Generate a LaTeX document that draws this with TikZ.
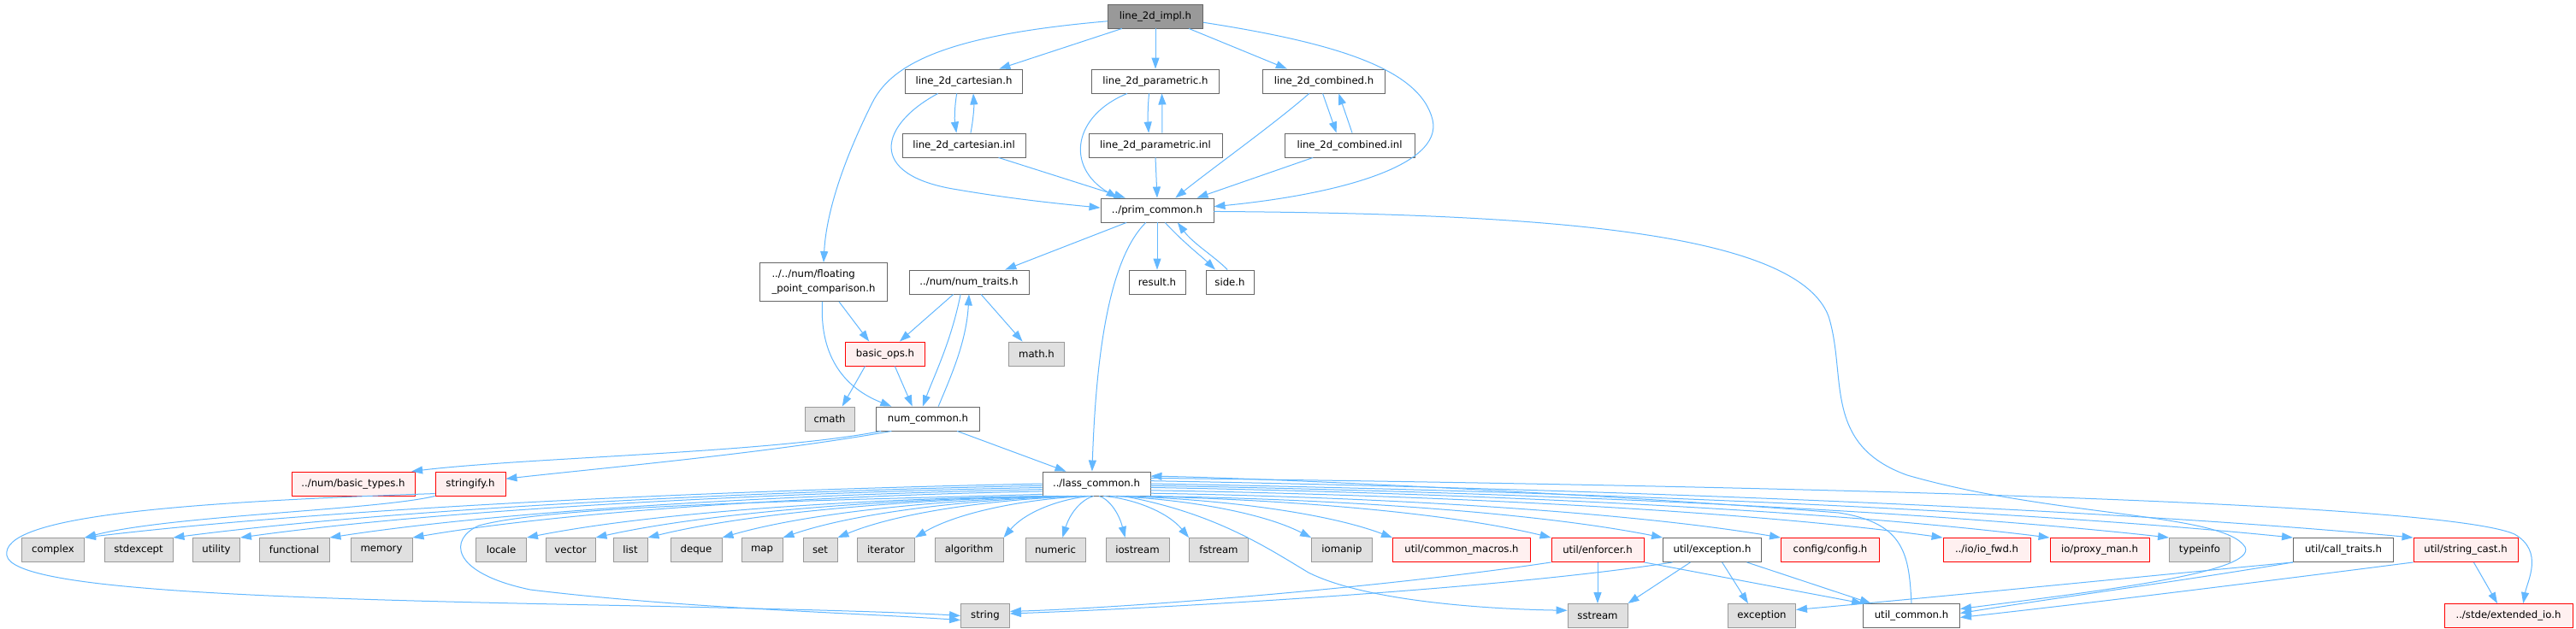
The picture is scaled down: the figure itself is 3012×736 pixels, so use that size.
\documentclass[tikz,border=0pt]{standalone}
\usepackage{fontspec}
\setmainfont{DejaVu Sans}
\usetikzlibrary{arrows.meta,calc}
\definecolor{edgec}{HTML}{63B8FF}
\definecolor{bdsix}{HTML}{666666}
\definecolor{bdnine}{HTML}{999999}
\definecolor{fgray}{HTML}{E0E0E0}
\definecolor{fred}{HTML}{FFF0F0}
\definecolor{bred}{HTML}{FF0000}
\newcommand\ccedge[2]{\draw[dep] (cc.#1) .. controls ($(cc.#1)!0.35!(#2)+(0,-14)$) and ($(cc.#1)!0.75!(#2)+(0,-18)$) .. (#2);}
\begin{document}
\begin{tikzpicture}[x=1pt,y=-1pt,
  nbox/.style={draw, line width=0.9pt, minimum height=28pt, inner sep=0pt, font=\fontsize{11.7}{16.5}\selectfont, text=black},
  wbox/.style={nbox, draw=bdsix, fill=white},
  gbox/.style={nbox, draw=bdnine, fill=fgray},
  rbox/.style={nbox, draw=bred, fill=fred},
  topbox/.style={nbox, draw=bdsix, fill=bdnine},
  dep/.style={draw=edgec, line width=1pt, -{Triangle[length=13pt,width=9pt]}}]
\fill[white] (0,0) rectangle (3012,736);
\useasboundingbox (0,0) rectangle (3012,736);
% nodes
\node[topbox, minimum width=111pt] (impl) at (1351,19) {line\_2d\_impl.h};
\node[wbox, minimum width=137pt] (carth) at (1127,95) {line\_2d\_cartesian.h};
\node[wbox, minimum width=149pt] (parh) at (1351,95) {line\_2d\_parametric.h};
\node[wbox, minimum width=143pt] (combh) at (1548,95) {line\_2d\_combined.h};
\node[wbox, minimum width=144pt] (carti) at (1127,170) {line\_2d\_cartesian.inl};
\node[wbox, minimum width=156pt] (pari) at (1351,170) {line\_2d\_parametric.inl};
\node[wbox, minimum width=152pt] (combi) at (1578,170) {line\_2d\_combined.inl};
\node[wbox, minimum width=132pt] (prim) at (1353,246) {../prim\_common.h};
\node[wbox, minimum width=149pt, minimum height=45pt, align=left] (flt) at (963,330) {../../num/floating\\\_point\_comparison.h};
\node[wbox, minimum width=140pt] (numtr) at (1133,330) {../num/num\_traits.h};
\node[wbox, minimum width=66pt] (result) at (1353,330) {result.h};
\node[wbox, minimum width=56pt] (side) at (1438,330) {side.h};
\node[rbox, minimum width=93pt] (bops) at (1035,414) {basic\_ops.h};
\node[gbox, minimum width=65pt] (math) at (1212,414) {math.h};
\node[gbox, minimum width=58pt] (cmath) at (970,490) {cmath};
\node[wbox, minimum width=121pt] (numc) at (1085,490) {num\_common.h};
\node[rbox, minimum width=144pt] (btypes) at (413,566) {../num/basic\_types.h};
\node[rbox, minimum width=82pt] (strfy) at (550,566) {stringify.h};
\node[wbox, minimum width=126pt] (cc) at (1282,566) {../lass\_common.h};
% std row
\node[gbox, minimum width=73pt] (complex) at (62,643.5) {complex};
\node[gbox, minimum width=80pt] (stdexcept) at (162,643.5) {stdexcept};
\node[gbox, minimum width=55pt] (utility) at (253,643.5) {utility};
\node[gbox, minimum width=82pt] (functional) at (344,643.5) {functional};
\node[gbox, minimum width=72pt] (memory) at (446,643.5) {memory};
\node[gbox, minimum width=59pt] (locale) at (586,643.5) {locale};
\node[gbox, minimum width=58pt] (vector) at (667,643.5) {vector};
\node[gbox, minimum width=40pt] (list) at (737,643.5) {list};
\node[gbox, minimum width=60pt] (deque) at (814,643.5) {deque};
\node[gbox, minimum width=48pt] (map) at (891,643.5) {map};
\node[gbox, minimum width=40pt] (set) at (959,643.5) {set};
\node[gbox, minimum width=67pt] (iterator) at (1036,643.5) {iterator};
\node[gbox, minimum width=80pt] (algorithm) at (1133,643.5) {algorithm};
\node[gbox, minimum width=70pt] (numeric) at (1234,643.5) {numeric};
\node[gbox, minimum width=74pt] (iostream) at (1330,643.5) {iostream};
\node[gbox, minimum width=69pt] (fstream) at (1425,643.5) {fstream};
\node[gbox, minimum width=71pt] (iomanip) at (1569,643.5) {iomanip};
\node[rbox, minimum width=161pt] (cmacros) at (1709,643.5) {util/common\_macros.h};
\node[rbox, minimum width=108pt] (enforcer) at (1868,643.5) {util/enforcer.h};
\node[wbox, minimum width=115pt] (exch) at (2002,643.5) {util/exception.h};
\node[rbox, minimum width=115pt] (config) at (2140,643.5) {config/config.h};
\node[rbox, minimum width=102pt] (iofwd) at (2323,643.5) {../io/io\_fwd.h};
\node[rbox, minimum width=116pt] (proxy) at (2455,643.5) {io/proxy\_man.h};
\node[gbox, minimum width=71pt] (typeinfo) at (2572,643.5) {typeinfo};
\node[wbox, minimum width=117pt] (calltr) at (2740,643.5) {util/call\_traits.h};
\node[rbox, minimum width=122pt] (strcast) at (2883,643.5) {util/string\_cast.h};
% bottom row
\node[gbox, minimum width=57pt] (string) at (1152,720.5) {string};
\node[gbox, minimum width=70pt] (sstream) at (1868,720.5) {sstream};
\node[gbox, minimum width=79pt] (exception) at (2060,720.5) {exception};
\node[wbox, minimum width=113pt] (utilc) at (2235,720.5) {util\_common.h};
\node[rbox, minimum width=150pt] (extio) at (2933,720.5) {../stde/extended\_io.h};
% edges from impl
\draw[dep] ($(impl.south west)!0.3!(impl.north west)$) .. controls (1120,40) and (1045,70) .. (1020,120) .. controls (985,190) and (966,250) .. (flt.north);
\draw[dep] ($(impl.south west)!0.15!(impl.south east)$) -- ($(carth.north west)!0.8!(carth.north east)$);
\draw[dep] (impl.south) -- (parh.north);
\draw[dep] ($(impl.south west)!0.85!(impl.south east)$) -- ($(combh.north west)!0.2!(combh.north east)$);
\draw[dep] ($(impl.north east)!0.75!(impl.south east)$) .. controls (1560,50) and (1660,80) .. (1675,140) .. controls (1688,195) and (1560,228) .. ($(prim.north east)!0.35!(prim.south east)$);
% cartesian
\draw[dep] ($(carth.south west)!0.44!(carth.south east)$) .. controls (1116,125) and (1116,140) .. ($(carti.north west)!0.44!(carti.north east)$);
\draw[dep] ($(carti.north west)!0.555!(carti.north east)$) .. controls (1138,140) and (1139,125) .. ($(carth.south west)!0.58!(carth.south east)$);
\draw[dep] ($(carth.south west)!0.28!(carth.south east)$) .. controls (1030,145) and (1010,205) .. (1120,222) .. controls (1190,234) and (1255,240) .. ($(prim.north west)!0.4!(prim.south west)$);
\draw[dep] ($(carti.south west)!0.78!(carti.south east)$) -- ($(prim.north west)!0.22!(prim.north east)$);
% parametric
\draw[dep] ($(parh.south west)!0.28!(parh.south east)$) .. controls (1255,135) and (1245,195) .. ($(prim.north west)!0.15!(prim.north east)$);
\draw[dep] ($(parh.south west)!0.45!(parh.south east)$) .. controls (1342,125) and (1342,140) .. ($(pari.north west)!0.45!(pari.north east)$);
\draw[dep] ($(pari.north west)!0.55!(pari.north east)$) .. controls (1359,140) and (1359,125) .. ($(parh.south west)!0.55!(parh.south east)$);
\draw[dep] (pari.south) -- (prim.north);
% combined
\draw[dep] ($(combh.south west)!0.38!(combh.south east)$) .. controls (1490,145) and (1420,195) .. ($(prim.north west)!0.66!(prim.north east)$);
\draw[dep] ($(combh.south west)!0.49!(combh.south east)$) -- ($(combi.north west)!0.4!(combi.north east)$);
\draw[dep] ($(combi.north west)!0.52!(combi.north east)$) -- ($(combh.south west)!0.62!(combh.south east)$);
\draw[dep] ($(combi.south west)!0.22!(combi.south east)$) -- ($(prim.north west)!0.85!(prim.north east)$);
% prim_common
\draw[dep] ($(prim.south west)!0.23!(prim.south east)$) -- ($(numtr.north west)!0.8!(numtr.north east)$);
\draw[dep] ($(prim.south west)!0.4!(prim.south east)$) .. controls (1300,300) and (1282,400) .. ($(cc.north west)!0.46!(cc.north east)$);
\draw[dep] (prim.south) -- (result.north);
\draw[dep] ($(prim.south west)!0.57!(prim.south east)$) .. controls (1385,285) and (1405,300) .. ($(side.north west)!0.2!(side.north east)$);
\draw[dep] ($(side.north west)!0.45!(side.north east)$) .. controls (1420,300) and (1395,285) .. ($(prim.south west)!0.68!(prim.south east)$);
\draw[dep] ($(prim.north east)!0.55!(prim.south east)$) .. controls (1800,250) and (2100,270) .. (2138,370) .. controls (2160,440) and (2130,520) .. (2230,556) .. controls (2400,605) and (2600,600) .. (2625,640) .. controls (2640,670) and (2450,692) .. (utilc.8);
% num_traits
\draw[dep] ($(numtr.south west)!0.37!(numtr.south east)$) -- ($(bops.north west)!0.68!(bops.north east)$);
\draw[dep] ($(numtr.south west)!0.43!(numtr.south east)$) .. controls (1112,400) and (1092,440) .. ($(numc.north west)!0.45!(numc.north east)$);
\draw[dep] ($(numc.north west)!0.6!(numc.north east)$) .. controls (1112,440) and (1130,400) .. ($(numtr.south west)!0.5!(numtr.south east)$);
\draw[dep] ($(numtr.south west)!0.6!(numtr.south east)$) -- ($(math.north west)!0.25!(math.north east)$);
% floating point
\draw[dep] ($(flt.south west)!0.62!(flt.south east)$) -- ($(bops.north west)!0.3!(bops.north east)$);
\draw[dep] ($(flt.south west)!0.49!(flt.south east)$) .. controls (958,420) and (990,455) .. ($(numc.north west)!0.15!(numc.north east)$);
% basic_ops
\draw[dep] ($(bops.south west)!0.25!(bops.south east)$) -- ($(cmath.north west)!0.75!(cmath.north east)$);
\draw[dep] ($(bops.south west)!0.62!(bops.south east)$) -- ($(numc.north west)!0.35!(numc.north east)$);
% num_common
\draw[dep] ($(numc.south west)!0.05!(numc.south east)$) .. controls (900,530) and (620,535) .. ($(btypes.north west)!0.97!(btypes.north east)$);
\draw[dep] ($(numc.south west)!0.15!(numc.south east)$) .. controls (900,530) and (700,548) .. ($(strfy.north east)!0.3!(strfy.south east)$);
\draw[dep] ($(numc.south west)!0.78!(numc.south east)$) -- ($(cc.north west)!0.22!(cc.north east)$);
% stringify
\draw[dep] (strfy.south west) .. controls (440,597) and (200,603) .. (complex.north east);
\draw[dep] ($(strfy.south west)!0.1!(strfy.north west)$) .. controls (200,588) and (0,605) .. (8,650) .. controls (15,690) and (300,700) .. (700,708) .. controls (900,712) and (1050,716) .. (string.west);
% lass_common
\draw[dep] (cc.191) .. controls (1000,585) and (650,590) .. (560,615) .. controls (525,630) and (525,670) .. (620,690) .. controls (800,712) and (1000,717) .. (string.190);
\ccedge{180}{complex.north east}
\ccedge{182}{stdexcept.north east}
\ccedge{184}{utility.north east}
\ccedge{186}{functional.north east}
\ccedge{188}{memory.north east}
\ccedge{194}{locale.north east}
\ccedge{198}{vector.north east}
\ccedge{204}{list.north east}
\ccedge{212}{deque.north east}
\ccedge{220}{map.north east}
\ccedge{228}{set.north east}
\ccedge{236}{iterator.north east}
\ccedge{246}{algorithm.north east}
\ccedge{258}{numeric.60}
\ccedge{282}{iostream.135}
\ccedge{300}{fstream.north west}
\ccedge{318}{iomanip.north west}
\ccedge{330}{cmacros.north west}
\ccedge{338}{enforcer.north west}
\ccedge{346}{exch.north west}
\ccedge{350}{config.north west}
\ccedge{353}{iofwd.north west}
\ccedge{356}{proxy.north west}
\ccedge{358}{typeinfo.north west}
\ccedge{0}{calltr.north west}
\ccedge{3}{strcast.north west}
\draw[dep] (cc.335) .. controls (1420,600) and (1480,640) .. (1530,670) .. controls (1600,705) and (1750,713) .. (sstream.170);
\draw[dep] (cc.6) .. controls (2200,570) and (2860,590) .. (2940,625) .. controls (2975,645) and (2955,680) .. (extio.40);
\draw[dep] ($(utilc.north west)!0.5!(utilc.north east)$) .. controls (2232,650) and (2228,612) .. (2150,600) .. controls (1900,580) and (1500,560) .. (cc.8);
% lower edges
\draw[dep] (enforcer.south) -- (sstream.north);
\draw[dep] (enforcer.south west) .. controls (1600,690) and (1300,712) .. (string.10);
\draw[dep] (enforcer.south east) -- (utilc.north west);
\draw[dep] ($(exch.south west)!0.1!(exch.south east)$) .. controls (1750,690) and (1350,712) .. (string.5);
\draw[dep] ($(exch.south west)!0.28!(exch.south east)$) -- (sstream.north east);
\draw[dep] ($(exch.south west)!0.6!(exch.south east)$) -- (exception.138);
\draw[dep] ($(exch.south west)!0.85!(exch.south east)$) -- (utilc.163);
\draw[dep] (calltr.south west) .. controls (2500,675) and (2250,700) .. (exception.10);
\draw[dep] (calltr.south west) .. controls (2550,680) and (2400,700) .. (utilc.3);
\draw[dep] (strcast.south west) .. controls (2650,680) and (2450,705) .. (utilc.-2);
\draw[dep] (strcast.303) -- (extio.132);
\end{tikzpicture}
\end{document}
